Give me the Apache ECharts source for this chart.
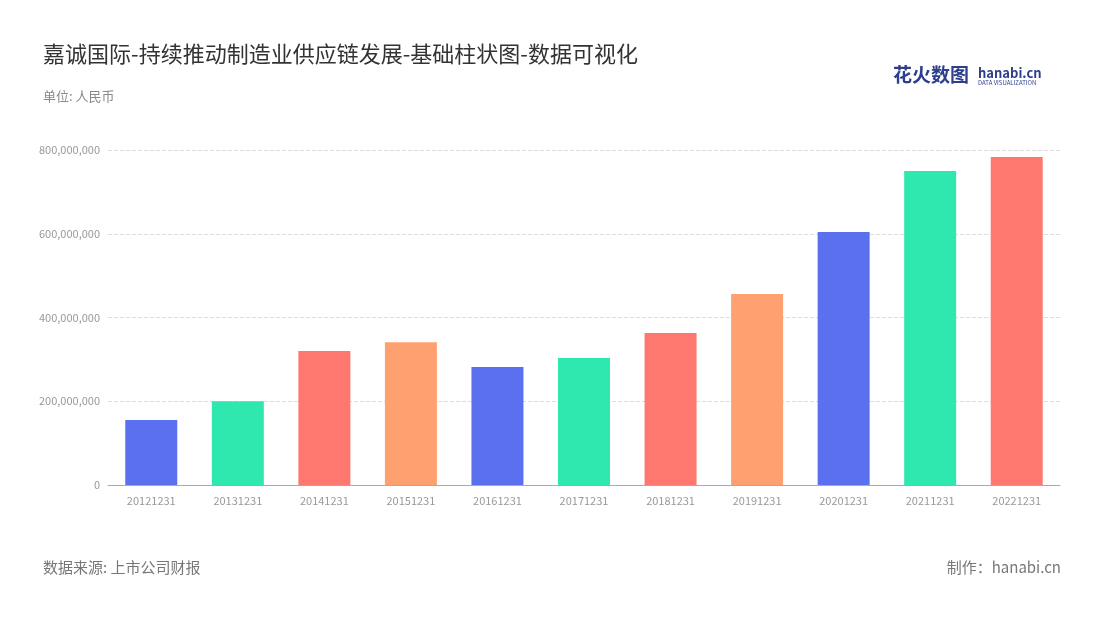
<!DOCTYPE html>
<html><head><meta charset="utf-8">
<script src="https://cdn.jsdelivr.net/npm/echarts@6/dist/echarts.min.js"></script>
<style>html,body{margin:0;padding:0;background:#fff}#c{width:1100px;height:620px}</style>
</head><body><div id="c"></div>
<script>
const categories = ['20121231','20131231','20141231','20151231','20161231','20171231','20181231','20191231','20201231','20211231','20221231'];
const values = [155000000,200000000,320000000,341000000,282000000,303000000,363000000,456000000,604000000,750000000,783000000];
const palette = ['#5B70EE','#2EE8B0','#FF7870','#FFA070'];
const chart = echarts.init(document.getElementById('c'));
const F = '"Noto Sans CJK SC","Noto Sans",sans-serif';
chart.setOption({
  textStyle:{fontFamily:F},
  title:[
    {text:'嘉诚国际-持续推动制造业供应链发展-基础柱状图-数据可视化',left:38,top:38,textStyle:{fontSize:22,fontWeight:'normal',color:'#333',fontFamily:F}},
    {text:'单位: 人民币',left:38,top:85,textStyle:{fontSize:13,fontWeight:'normal',color:'#888',fontFamily:F}},
    {text:'数据来源: 上市公司财报',left:38,top:555,textStyle:{fontSize:15,fontWeight:'normal',color:'#777',fontFamily:F}},
    {text:'制作：hanabi.cn',right:34,top:555,textStyle:{fontSize:15,fontWeight:'normal',color:'#777',fontFamily:F}},
    {text:'花火数图',left:888,top:60,textStyle:{fontSize:19,fontWeight:'bold',color:'#2c3e8c',fontFamily:F}},
    {text:'hanabi.cn',left:973,top:62,subtext:'DATA VISUALIZATION',itemGap:0,textStyle:{fontSize:13,fontWeight:'bold',color:'#2c3e8c',fontFamily:F},subtextStyle:{fontSize:6,color:'#2c3e8c'}}
  ],
  grid:{left:108,right:40,top:150,bottom:135},
  xAxis:{type:'category',data:categories,axisTick:{show:false},axisLine:{lineStyle:{color:'#aaa'}},axisLabel:{color:'#999',fontSize:11,margin:10}},
  yAxis:{type:'value',min:0,max:800000000,interval:200000000,axisLabel:{color:'#999',fontSize:11,formatter:v=>v.toLocaleString('en-US')},splitLine:{lineStyle:{type:'dashed',color:'#ddd'}}},
  series:[{type:'bar',barWidth:52,data:values.map((v,i)=>({value:v,itemStyle:{color:palette[i%4]}}))}]
});
</script></body></html>
